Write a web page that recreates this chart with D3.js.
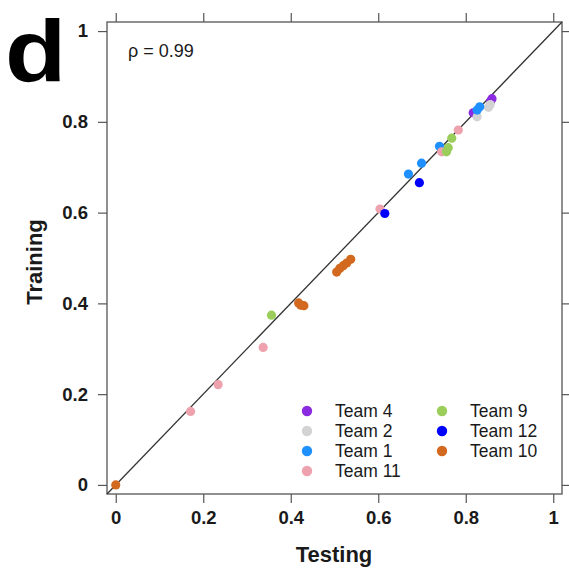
<!DOCTYPE html>
<html>
<head>
<meta charset="utf-8">
<script src="https://cdn.jsdelivr.net/npm/d3@7"></script>
<style>
  html, body { margin: 0; padding: 0; background: #fff; }
  svg { display: block; font-family: "Liberation Sans", Arial, Helvetica, sans-serif; }
</style>
</head>
<body>
<svg id="chart" width="569" height="571"></svg>
<script>
// Team order, colours and legend columns
const teams = ["Team 4", "Team 2", "Team 1", "Team 11", "Team 9", "Team 12", "Team 10"];
const teamColors = ["#8a2be2", "#d3d3d3", "#1e90ff", "#eea2ad", "#9acd5a", "#0000ff", "#d2691e"];

// Testing / training scores for each team
const team4Testing  = [0.817, 0.857, 0.860];
const team4Training = [0.820, 0.846, 0.851];
const team2Testing  = [0.826, 0.852, 0.856];
const team2Training = [0.811, 0.832, 0.838];
const team1Testing  = [0.669, 0.699, 0.740, 0.826, 0.832];
const team1Training = [0.685, 0.709, 0.746, 0.826, 0.833];
const team11Testing  = [0.171, 0.234, 0.337, 0.604, 0.745, 0.783];
const team11Training = [0.162, 0.221, 0.303, 0.608, 0.734, 0.782];
const team9Testing  = [0.356, 0.756, 0.760, 0.768];
const team9Training = [0.374, 0.734, 0.743, 0.764];
const team12Testing  = [0.615, 0.694];
const team12Training = [0.598, 0.666];
const team10Testing  = [0.000, 0.418, 0.423, 0.430, 0.505, 0.512, 0.520, 0.528, 0.537];
const team10Training = [0.000, 0.401, 0.396, 0.395, 0.469, 0.477, 0.483, 0.489, 0.497];

const tickValues = [0, 0.2, 0.4, 0.6, 0.8, 1];
const tickLabels = ["0", "0.2", "0.4", "0.6", "0.8", "1"];
const rhoLabel = "\u03c1 = 0.99";
const panelLabel = "d";

const seriesTesting = [team4Testing, team2Testing, team1Testing, team11Testing, team9Testing, team12Testing, team10Testing];
const seriesTraining = [team4Training, team2Training, team1Training, team11Training, team9Training, team12Training, team10Training];

const points = [];
teams.forEach((t, i) => {
  seriesTesting[i].forEach((v, j) => points.push({ team: t, color: teamColors[i], x: v, y: seriesTraining[i][j] }));
});

const svg = d3.select("#chart");
const box = { left: 107, right: 562, top: 22, bottom: 494 };
const domain = [-0.02, 1.02];
const x = d3.scaleLinear().domain(domain).range([box.left, box.right]);
const y = d3.scaleLinear().domain(domain).range([box.bottom, box.top]);

svg.append("rect").attr("width", 569).attr("height", 571).attr("fill", "#fff");

const frameColor = "#555";
const tickLen = 9;
const fmt = (d) => tickLabels[tickValues.indexOf(d)];

function styleAxis(g, withLabels) {
  g.select(".domain").remove();
  g.selectAll(".tick line").attr("stroke", frameColor).attr("stroke-width", 1.2);
  g.selectAll(".tick text")
    .attr("fill", "#1a1a1a")
    .attr("font-size", 18.5)
    .attr("font-weight", "bold")
    .attr("font-family", "Liberation Sans, Arial, sans-serif");
  if (!withLabels) g.selectAll(".tick text").remove();
}

svg.append("g").attr("transform", `translate(0,${box.bottom})`)
  .call(d3.axisBottom(x).tickValues(tickValues).tickFormat(fmt).tickSize(tickLen).tickPadding(8))
  .call(g => styleAxis(g, true));
svg.append("g").attr("transform", `translate(${box.left},0)`)
  .call(d3.axisLeft(y).tickValues(tickValues).tickFormat(fmt).tickSize(tickLen).tickPadding(10))
  .call(g => styleAxis(g, true));
svg.append("g").attr("transform", `translate(0,${box.top})`)
  .call(d3.axisTop(x).tickValues(tickValues).tickSize(tickLen))
  .call(g => styleAxis(g, false));
svg.append("g").attr("transform", `translate(${box.right},0)`)
  .call(d3.axisRight(y).tickValues(tickValues).tickSize(tickLen))
  .call(g => styleAxis(g, false));

// Plot frame
svg.append("rect")
  .attr("x", box.left).attr("y", box.top)
  .attr("width", box.right - box.left).attr("height", box.bottom - box.top)
  .attr("fill", "none").attr("stroke", frameColor).attr("stroke-width", 1.3);

// Identity line
svg.append("line")
  .attr("x1", x(domain[0])).attr("y1", y(domain[0]))
  .attr("x2", x(domain[1])).attr("y2", y(domain[1]))
  .attr("stroke", "#333").attr("stroke-width", 1.3);

// Points
svg.append("g").selectAll("circle").data(points).join("circle")
  .attr("cx", d => x(d.x)).attr("cy", d => y(d.y))
  .attr("r", 4.6).attr("fill", d => d.color);

// Correlation annotation
svg.append("text").attr("x", 128).attr("y", 57)
  .attr("font-size", 18).attr("fill", "#1a1a1a").text(rhoLabel);

// Panel letter
svg.append("text").attr("transform", "translate(5,81) scale(1.14,1)")
  .attr("font-size", 88).attr("font-weight", "bold").attr("fill", "#000").text(panelLabel);

// Axis titles
svg.append("text").attr("x", 334).attr("y", 562).attr("text-anchor", "middle")
  .attr("font-size", 22).attr("font-weight", "bold").attr("fill", "#1a1a1a").text("Testing");
svg.append("text").attr("transform", "translate(42,262) rotate(-90)").attr("text-anchor", "middle")
  .attr("font-size", 22).attr("font-weight", "bold").attr("fill", "#1a1a1a").text("Training");

// Legend in two columns
const legendCols = [{ dx: 307, tx: 335, items: [0, 1, 2, 3] }, { dx: 442, tx: 470, items: [4, 5, 6] }];
const legend = svg.append("g");
legendCols.forEach(col => {
  col.items.forEach((ti, row) => {
    const cy = 411 + row * 20;
    legend.append("circle").attr("cx", col.dx).attr("cy", cy).attr("r", 5.2).attr("fill", teamColors[ti]);
    legend.append("text").attr("x", col.tx).attr("y", cy + 6)
      .attr("font-size", 17.5).attr("fill", "#1a1a1a").text(teams[ti]);
  });
});
</script>
</body>
</html>
